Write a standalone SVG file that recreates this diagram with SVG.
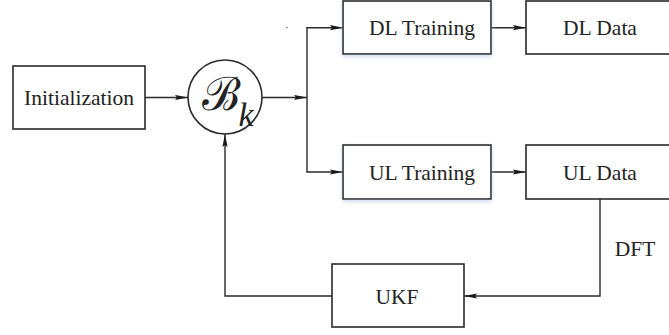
<svg xmlns="http://www.w3.org/2000/svg" width="669" height="335" viewBox="0 0 669 335">
<style>
.box{fill:#fff;stroke:#2a2a2a;stroke-width:1.6}
.lbl{font-family:"Liberation Serif","Times New Roman",Times,"DejaVu Serif",serif;font-size:21.5px;fill:#222;text-anchor:middle}
.ln{fill:none;stroke:#2a2a2a;stroke-width:1.4}
.arr{marker-end:url(#ah)}
</style>
<defs>
<marker id="ah" markerUnits="userSpaceOnUse" viewBox="0 0 13 6" refX="13" refY="3" markerWidth="13" markerHeight="6" orient="auto">
<path d="M0,0.4 L13,3 L0,5.6 L2,3 z" fill="#1a1a1a"/>
</marker>
<filter id="glow" x="-10%" y="-20%" width="120%" height="150%">
<feDropShadow dx="0" dy="2" stdDeviation="2" flood-color="#b8cbe8" flood-opacity="0.7"/>
</filter>
</defs>
<rect width="669" height="335" fill="#fff"/>
<g id="connectors">
<line class="ln arr" x1="145" y1="97.5" x2="188" y2="97.5"/>
<line class="ln arr" x1="262" y1="97.5" x2="307" y2="97.5"/>
<line class="ln" x1="307" y1="27.5" x2="307" y2="172"/>
<line class="ln arr" x1="306.3" y1="27.7" x2="343" y2="27.7"/>
<line class="ln arr" x1="306.3" y1="172" x2="343" y2="172"/>
<line class="ln arr" x1="491" y1="27.7" x2="526" y2="27.7"/>
<line class="ln arr" x1="491" y1="172" x2="526" y2="172"/>
<polyline class="ln arr" points="600,199 600,296 464,296"/>
<polyline class="ln arr" points="332,296 225,296 225,134"/>
<rect x="286.3" y="27" width="1.2" height="1.2" fill="#555"/>
</g>
<g id="init">
<rect class="box" x="13" y="66" width="132" height="63"/>
<text class="lbl" x="79" y="105">Initialization</text>
</g>
<g id="bk">
<circle cx="225" cy="97" r="37" fill="#fff" stroke="#2a2a2a" stroke-width="1.6"/>
<text x="221" y="110" font-family="DejaVu Serif, serif" font-size="46" fill="#222" text-anchor="middle">ℬ</text>
<text x="246" y="126" font-family="Liberation Serif, Times New Roman, DejaVu Serif, serif" font-style="italic" font-size="34" fill="#222" text-anchor="middle">k</text>
</g>
<g id="dl-training">
<rect class="box" x="343" y="1" width="148" height="53" filter="url(#glow)"/>
<text class="lbl" x="422" y="35">DL Training</text>
</g>
<g id="dl-data">
<rect class="box" x="526" y="1" width="150" height="53"/>
<text class="lbl" x="600" y="35">DL Data</text>
</g>
<g id="ul-training">
<rect class="box" x="343" y="145" width="148" height="54" filter="url(#glow)"/>
<text class="lbl" x="422" y="180">UL Training</text>
</g>
<g id="ul-data">
<rect class="box" x="526" y="145" width="150" height="54"/>
<text class="lbl" x="600" y="180">UL Data</text>
</g>
<g id="ukf">
<rect class="box" x="332" y="264" width="132" height="63"/>
<text class="lbl" x="397" y="304">UKF</text>
</g>
<g id="dft-label">
<text class="lbl" x="635" y="256">DFT</text>
</g>
</svg>
